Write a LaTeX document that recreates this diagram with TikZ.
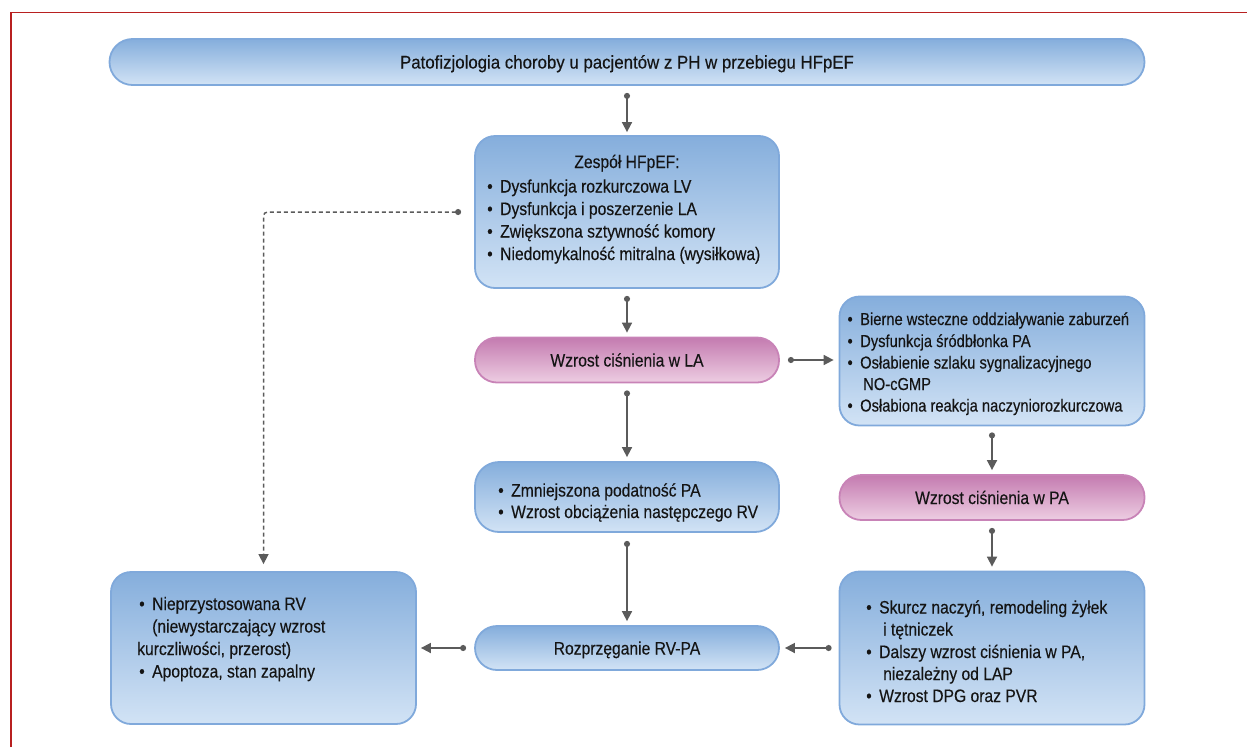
\documentclass[tikz,border=0pt]{standalone}
\usepackage{fontspec}
\setmainfont[FakeStretch=0.87,FakeBold=0.25]{Liberation Sans}
\newfontfamily\titlefont[FakeStretch=0.92,FakeBold=0.25]{Liberation Sans}
\newfontfamily\rtfont[FakeStretch=0.85,FakeBold=0.25]{Liberation Sans}
\usetikzlibrary{arrows.meta}
\definecolor{bluetop}{HTML}{85AEDC}
\definecolor{bluebot}{HTML}{D2E3F5}
\definecolor{blueborder}{HTML}{80A9DB}
\definecolor{pinktop}{HTML}{C47BB0}
\definecolor{pinkbot}{HTML}{EDCDE2}
\definecolor{pinkborder}{HTML}{C883B7}
\definecolor{arrowgray}{HTML}{5B5B5B}
\definecolor{framered}{HTML}{B82020}
\definecolor{txtcol}{HTML}{141414}
\newcommand\bul{\llap{•\hspace{7.5pt}}}
\tikzset{
  bbox/.style={draw=blueborder, line width=1.8pt, top color=bluetop, bottom color=bluebot,
    rounded corners=20pt, inner sep=0pt},
  pbox/.style={draw=pinkborder, line width=1.8pt, top color=pinktop, bottom color=pinkbot,
    rounded corners=22pt, inner sep=0pt},
  oneline/.style={text height=13pt, text depth=0pt, text=txtcol},
  txt/.style={anchor=base west, inner sep=0pt, text=txtcol},
  rtxt/.style={txt, font=\rtfont\fontsize{17.3}{21}\selectfont},
  ctxt/.style={anchor=base, inner sep=0pt, text=txtcol},
  conn/.style={draw=arrowgray, line width=1.7pt, {Circle[length=6pt]}-{Triangle[length=10pt,width=10pt]}},
  dconn/.style={draw=arrowgray, line width=1.5pt, dash pattern=on 4pt off 3pt,
    {Circle[length=6pt]}-{Triangle[length=10pt,width=10pt]}}
}
\begin{document}
\begin{tikzpicture}[x=1pt,y=-1pt,font=\fontsize{18}{22}\selectfont]
\useasboundingbox (0,0) rectangle (1247,747);
% frame
\draw[framered, line width=1.3pt] (11,747) -- (11,12.5) -- (1247,12.5);

% boxes
\node[bbox, rounded corners=23pt, minimum width=1035pt, minimum height=46pt, oneline,
  font=\titlefont\fontsize{18.3}{22}\selectfont] (title) at (627,62)
  {Patofizjologia choroby u pacjentów z PH w przebiegu HFpEF};
\node[bbox, minimum width=304pt, minimum height=152pt] (hf) at (627,212) {};
\node[pbox, minimum width=304pt, minimum height=45pt, oneline] (la) at (627,360) {Wzrost ciśnienia w LA};
\node[bbox, minimum width=305pt, minimum height=129pt] (rt) at (992,361) {};
\node[pbox, minimum width=305pt, minimum height=45pt, oneline] (pa) at (992,497.5) {Wzrost ciśnienia w PA};
\node[bbox, rounded corners=24pt, minimum width=304pt, minimum height=70pt] (mid) at (627,497) {};
\node[bbox, rounded corners=22pt, minimum width=304pt, minimum height=44pt, oneline] (rvpa) at (627,648) {Rozprzęganie RV-PA};
\node[bbox, minimum width=305pt, minimum height=153pt] (lr) at (992,648) {};
\node[bbox, minimum width=305pt, minimum height=152pt] (lb) at (263.5,648) {};

% texts: HFpEF
\node[ctxt] (hf0) at (627,168) {Zespół HFpEF:};
\node[txt] (hf1) at (500,192.5) {\bul Dysfunkcja rozkurczowa LV};
\node[txt] (hf2) at (500,215) {\bul Dysfunkcja i poszerzenie LA};
\node[txt] (hf3) at (500,237.5) {\bul Zwiększona sztywność komory};
\node[txt] (hf4) at (500,260) {\bul Niedomykalność mitralna (wysiłkowa)};

% right box
\node[rtxt] (rt1) at (860,325) {\bul Bierne wsteczne oddziaływanie zaburzeń};
\node[rtxt] (rt2) at (860,347) {\bul Dysfunkcja śródbłonka PA};
\node[rtxt] (rt3) at (860,368.5) {\bul Osłabienie szlaku sygnalizacyjnego};
\node[rtxt] (rt4) at (863,390) {NO-cGMP};
\node[rtxt] (rt5) at (860,411.5) {\bul Osłabiona reakcja naczyniorozkurczowa};

% middle box
\node[txt] (mid1) at (511,496.5) {\bul Zmniejszona podatność PA};
\node[txt] (mid2) at (511,518) {\bul Wzrost obciążenia następczego RV};

% lower right box
\node[txt] (lr1) at (879,613.5) {\bul Skurcz naczyń, remodeling żyłek};
\node[txt] (lr2) at (883,635.5) {i tętniczek};
\node[txt] (lr3) at (879,658) {\bul Dalszy wzrost ciśnienia w PA,};
\node[txt] (lr4) at (883,680) {niezależny od LAP};
\node[txt] (lr5) at (879,702) {\bul Wzrost DPG oraz PVR};

% left box
\node[txt] (lb1) at (152,610) {\bul Nieprzystosowana RV};
\node[txt] (lb2) at (152,632.5) {(niewystarczający wzrost};
\node[txt] (lb3) at (137,655) {kurczliwości, przerost)};
\node[txt] (lb4) at (152,677.5) {\bul Apoptoza, stan zapalny};

% connectors
\draw[conn] ([yshift=-7pt]title.south) -- ([yshift=3pt]hf.north);
\draw[conn] ([yshift=-7pt]hf.south) -- ([yshift=4pt]la.north);
\draw[conn] ([yshift=-7pt]la.south) -- ([yshift=4pt]mid.north);
\draw[conn] ([yshift=-8pt]mid.south) -- ([yshift=4pt]rvpa.north);
\draw[conn] ([xshift=8pt]la.east) -- ([xshift=-5pt]la.east -| rt.west);
\draw[conn] ([yshift=-6pt]rt.south) -- ([yshift=4pt]pa.north);
\draw[conn] ([yshift=-7pt]pa.south) -- ([yshift=4pt]lr.north);
\draw[conn] ([xshift=-7pt]lr.west) -- ([xshift=5pt]lr.west -| rvpa.east);
\draw[conn] ([xshift=-8pt]rvpa.west) -- ([xshift=4pt]rvpa.west -| lb.east);
\draw[dconn, rounded corners=4pt] ([xshift=-13pt]hf.west) -| ([yshift=7pt]lb.north);
\end{tikzpicture}
\end{document}
